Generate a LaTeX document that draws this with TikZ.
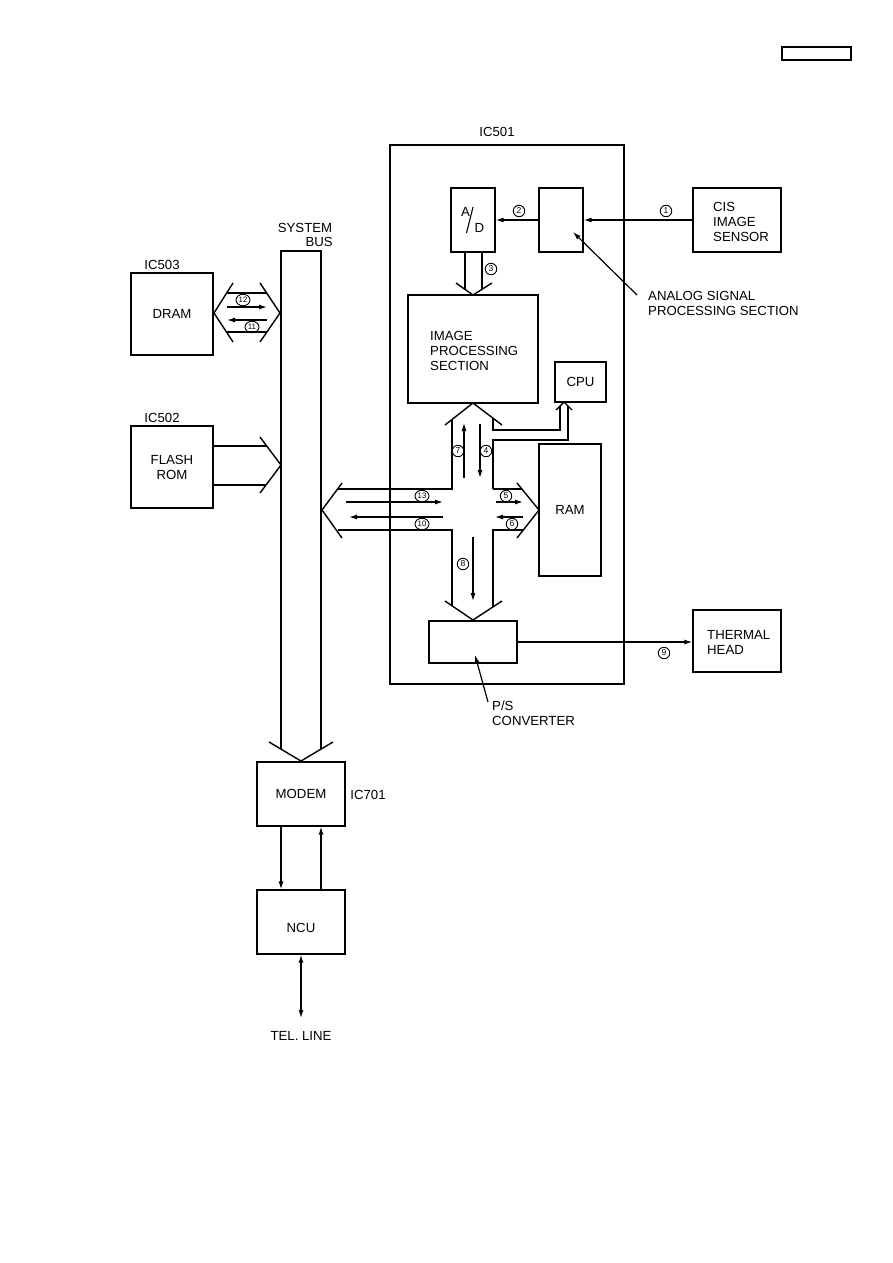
\documentclass[tikz,border=0pt]{standalone}
\usepackage{fontspec}
\setmainfont{Liberation Sans}
\usetikzlibrary{arrows.meta,shapes.geometric}
\begin{document}
\begin{tikzpicture}[x=1pt,y=-1pt,
 box/.style={draw,line width=1.4pt,inner sep=0pt,align=center,font=\fontsize{13.2}{15}\selectfont},
 lab/.style={font=\fontsize{13.2}{15}\selectfont,inner sep=0pt,align=left},
 num/.style={draw,circle,line width=0.9pt,inner sep=0.3pt,minimum size=11.5pt,font=\fontsize{8.5}{8.5}\selectfont},
 num2/.style={draw,ellipse,line width=0.9pt,inner xsep=0.2pt,inner ysep=0pt,minimum height=11.5pt,minimum width=14pt,font=\fontsize{7.8}{7.8}\selectfont},
 arr/.style={line width=1.2pt,-{Latex[length=8pt,width=5pt]}},
 darr/.style={line width=1.2pt,{Latex[length=8pt,width=5pt]}-{Latex[length=8pt,width=5pt]}},
 wall/.style={line width=1.4pt,line join=miter}
]
\useasboundingbox (0,0) rectangle (893,1263);

% header box
\node[box,minimum width=69pt,minimum height=13pt] (hdr) at (816.5,53.5) {};

% IC501 frame
\node[box,minimum width=234pt,minimum height=539pt] (ic501) at (507,414.5) {};
\node[lab] (ic501l) at (497,132) {IC501};

% blocks inside IC501
\node[box,minimum width=44pt,minimum height=64pt] (ad) at (473,220) {};
\node[lab] (adA) at (465.5,212) {A};
\node[lab] (adD) at (479.5,228) {D};
\draw[line width=1.1pt] (473,207) -- (466.5,233);
\node[box,minimum width=44pt,minimum height=64pt] (analog) at (561,220) {};
\node[box,minimum width=130pt,minimum height=108pt] (img) at (473,349) {};
\node[lab,anchor=west] (imgl) at (430,351) {IMAGE\\PROCESSING\\SECTION};
\node[box,minimum width=51pt,minimum height=40pt] (cpu) at (580.5,382) {CPU};
\node[box,minimum width=62pt,minimum height=132pt] (ram) at (570,510) {RAM};
\node[box,minimum width=88pt,minimum height=42pt] (ps) at (473,642) {};

% outside blocks
\node[box,minimum width=88pt,minimum height=64pt] (cis) at (737,220) {};
\node[lab,anchor=west] (cisl) at (713,222) {CIS\\IMAGE\\SENSOR};
\node[box,minimum width=88pt,minimum height=62pt] (thermal) at (737,641) {};
\node[lab,anchor=west] (thl) at (707,642) {THERMAL\\HEAD};
\node[box,minimum width=82pt,minimum height=82pt] (dram) at (172,314) {DRAM};
\node[lab] (ic503) at (162,265) {IC503};
\node[box,minimum width=82pt,minimum height=82pt] (flash) at (172,467) {FLASH\\ROM};
\node[lab] (ic502) at (162,418) {IC502};
\node[box,minimum width=88pt,minimum height=64pt] (modem) at (301,794) {MODEM};
\node[lab] (ic701) at (368,795) {IC701};
\node[box,minimum width=88pt,minimum height=64pt] (ncu) at (301,922) {};
\node[lab] (ncul) at (301,928) {NCU};
\node[lab] (tell) at (301,1036) {TEL. LINE};
\coordinate (tel) at (301,1018);

% labels with pointers
\node[lab,anchor=west] (asp) at (648,303) {ANALOG SIGNAL\\PROCESSING SECTION};
\coordinate (aspS) at (637,295);
\coordinate (aspE) at (573,232);
\draw[arr] (aspS) -- (aspE);
\node[lab,anchor=west] (psl) at (492,713) {P/S\\CONVERTER};
\coordinate (pslS) at (488,702);
\coordinate (pslE) at (475,655);
\draw[arr] (pslS) -- (pslE);

% system bus
\node[lab] (sys) at (305,228) {SYSTEM};
\node[lab,anchor=east] (busl) at (333,242) {BUS};
\draw[wall] (281,749) -- (281,251) -- (321,251) -- (321,749);
\draw[wall] (269,742) -- (301,761) -- (333,742);

% signal arrows
\draw[arr] (cis.west) -- (cis.west -| analog.east);
\node[num] (n1) at (666,211) {1};
\draw[arr] (analog.west) -- (analog.west -| ad.east);
\node[num] (n2) at (519,211) {2};
\draw[arr] (ps.east) -- (ps.east -| thermal.west);
\node[num] (n9) at (664,653) {9};

% hollow arrow 3 (A/D -> image processing)
\draw[wall] (465,252) -- (465,289.4);
\draw[wall] (482,252) -- (482,289.3);
\draw[wall] (456,283) -- (473,295) -- (492,283);
\node[num] (n3) at (491,269) {3};

% DRAM double hollow arrow
\draw[wall] (233,283) -- (214,313) -- (233,342);
\draw[wall] (260,283) -- (280,313) -- (260,342);
\draw[wall] (226.7,293) -- (266.7,293);
\draw[wall] (226.4,332) -- (266.9,332);
\draw[arr] (227,307) -- (267,307);
\draw[arr] (267,320) -- (227,320);
\node[num2] (n12) at (243,300) {12};
\node[num2] (n11) at (252,327) {11};

% FLASH hollow arrow
\draw[wall] (213,446) -- (266.8,446);
\draw[wall] (213,485) -- (266,485);
\draw[wall] (260,437) -- (281,465) -- (260,493);

% central cross hollow arrow
\draw[wall] (445,425) -- (473,403) -- (502,425);
\draw[wall] (452,419.5) -- (452,489) -- (337.6,489);
\draw[wall] (452,606) -- (452,530) -- (337.6,530);
\draw[wall] (342,483) -- (322,510) -- (342,538);
\draw[wall] (493,418) -- (493,430) -- (560,430) -- (560,406);
\draw[wall] (493,489) -- (493,440) -- (568,440) -- (568,406);
\draw[wall] (556,410) -- (564,402) -- (572,410);
\draw[wall] (493,489) -- (522,489);
\draw[wall] (493,607) -- (493,530) -- (523,530);
\draw[wall] (517,483) -- (539,510) -- (517,538);
\draw[wall] (445,601) -- (473,620) -- (502,601);

\draw[arr] (464,478) -- (464,423);
\node[num] (n7) at (458,451) {7};
\draw[arr] (480,424) -- (480,478);
\node[num] (n4) at (486,451) {4};
\draw[arr] (346,502) -- (443,502);
\node[num2] (n13) at (422,496) {13};
\draw[arr] (443,517) -- (349,517);
\node[num2] (n10) at (422,524) {10};
\draw[arr] (496,502) -- (523,502);
\node[num] (n5) at (506,496) {5};
\draw[arr] (523,517) -- (495,517);
\node[num] (n6) at (512,524) {6};
\draw[arr] (473,537) -- (473,601);
\node[num] (n8) at (463,564) {8};

% modem / ncu
\draw[arr] ([xshift=-20pt]modem.south) -- ([xshift=-20pt]ncu.north);
\draw[arr] ([xshift=20pt]ncu.north) -- ([xshift=20pt]modem.south);
\draw[darr] (ncu.south) -- (tel);
\end{tikzpicture}
\end{document}
